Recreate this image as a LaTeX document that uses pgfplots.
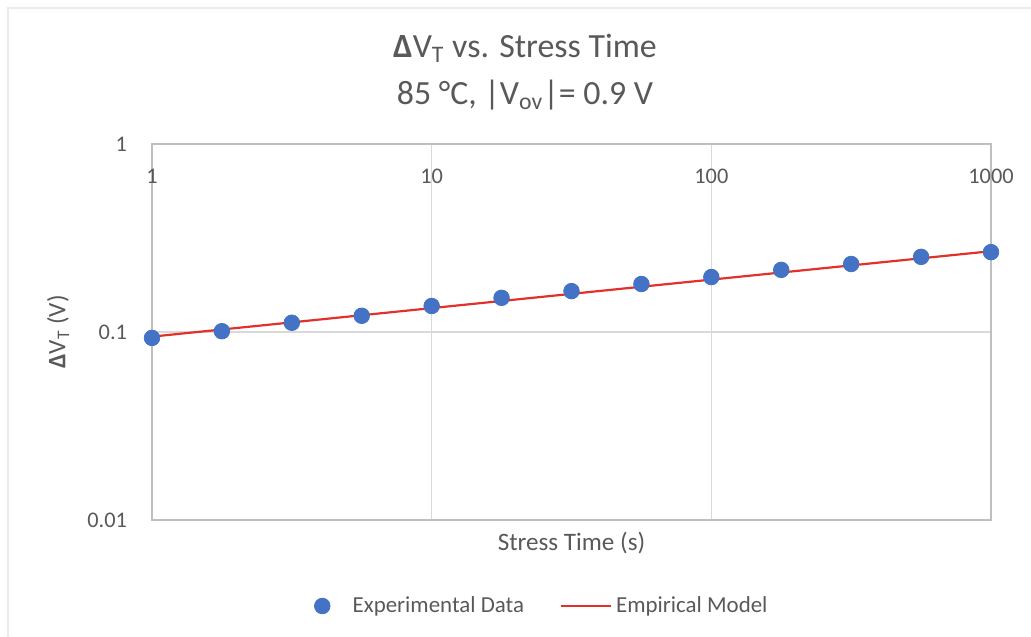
\documentclass[border=0pt]{standalone}
\usepackage{pgfplots}
\pgfplotsset{compat=1.18}
\usepackage{fontspec}
\setmainfont{Carlito}
\definecolor{txt}{HTML}{595959}
\definecolor{gridc}{HTML}{D9D9D9}
\definecolor{axc}{HTML}{BFBFBF}
\definecolor{blu}{HTML}{4472C4}
\definecolor{redl}{HTML}{E2312A}
\pgfplotstableread{
t dv
1 0.093
1.778 0.101
3.162 0.112
5.623 0.122
10 0.1375
17.78 0.152
31.62 0.165
56.23 0.180
100 0.196
177.8 0.214
316.2 0.230
562.3 0.251
1000 0.266
}\expdata
\pgfplotstableread{
t dv
1 0.0945
10 0.134
100 0.190
1000 0.269
}\modeldata
\begin{document}
\begin{tikzpicture}[x=1bp,y=1bp]
\path[use as bounding box] (-76bp,-58.5bp) rectangle (439.5bp,260bp);
\draw[black!8, line width=0.8bp] (-72bp,-58.5bp) -- (-72bp,256bp) -- (439.5bp,256bp);
\begin{axis}[
  scale only axis,
  width=419.5bp, height=188bp,
  xmode=log, ymode=log,
  xmin=1, xmax=1000, ymin=0.01, ymax=1,
  xtick={1,10,100,1000}, xticklabels={1,10,100,1000},
  ytick={0.01,0.1,1}, yticklabels={0.01,0.1,1},
  minor tick num=0,
  major tick length=0pt, minor tick length=0pt,
  tick style={draw=none},
  grid=major,
  major grid style={gridc, line width=0.6bp},
  axis line style={axc, line width=0.6bp},
  xticklabel pos=upper,
  x tick label style={anchor=north, yshift=-9bp, font=\fontsize{11.2}{13}\selectfont, text=txt},
  y tick label style={font=\fontsize{11.2}{13}\selectfont, text=txt, xshift=-9bp},
  xlabel={Stress Time (s)},
  xlabel style={font=\fontsize{12.6}{15}\selectfont, text=txt, at={(axis description cs:0.5,0)}, anchor=center, yshift=-11.5bp},
  ylabel={\textbf{Δ}V\textsubscript{T} (V)},
  ylabel style={font=\fontsize{12.6}{15}\selectfont, text=txt, at={(axis description cs:-0.112,0.5)}, anchor=center},
  clip=false,
  legend style={draw=none, fill=none, at={(axis description cs:0.4645,0)}, anchor=center, yshift=-43bp, legend columns=2, font=\fontsize{11.5}{14}\selectfont, text=txt,
    /tikz/every odd column/.append style={column sep=0bp},
    /tikz/every even column/.append style={column sep=16bp}},
  legend cell align=left,
]
\addplot[only marks, mark=*, mark size=3.9bp, mark options={fill=blu, draw=blu},
  legend image code/.code={\fill[white, opacity=0] (0bp,-1bp) rectangle (18bp,1bp); \fill[blu] (5bp,0bp) circle[radius=3.9bp];}] table[x=t,y=dv] {\expdata};
\addlegendentry{Experimental Data}
\addplot[redl, line width=1.1bp, mark=none,
  legend image code/.code={\draw[redl, line width=1.1bp] (0bp,0bp) -- (25bp,0bp);}] table[x=t,y=dv] {\modeldata};
\addlegendentry{Empirical Model}
\end{axis}
\node[text=txt, font=\fontsize{17}{20}\selectfont] at (186.5bp,236bp) {\textbf{Δ}V\textsubscript{T} vs. Stress Time};
\node[text=txt, font=\fontsize{17}{20}\selectfont] at (186.5bp,212.5bp) {85 °C, |V\textsubscript{ov}|= 0.9 V};
\end{tikzpicture}
\end{document}
